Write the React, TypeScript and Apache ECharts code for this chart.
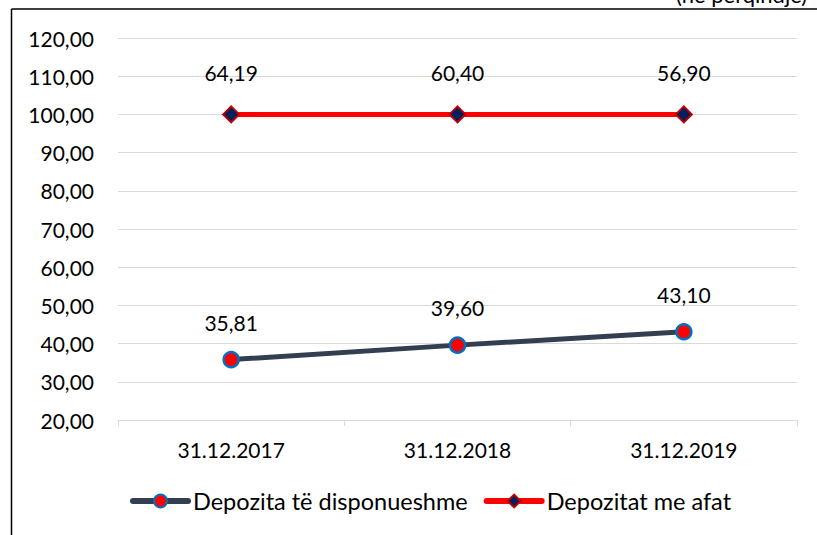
import React, { useEffect, useRef } from "react";
import * as echarts from "echarts";

const categories = ["31.12.2017", "31.12.2018", "31.12.2019"];
const disponueshme = [35.81, 39.6, 43.1];
const meAfat = [64.19, 60.4, 56.9];
const seriesNames = ["Depozita të disponueshme", "Depozitat me afat"];
const unitNote = "(në përqindje)";

const FONT = "Lato, 'Noto Sans', sans-serif";
const fmt = (v: number) => v.toFixed(2).replace(".", ",");

export default function App() {
  const ref = useRef<HTMLDivElement>(null);
  useEffect(() => {
    if (!ref.current) return;
    const chart = echarts.init(ref.current, undefined, { renderer: "svg" });
    chart.setOption({
      animation: false,
      backgroundColor: "#ffffff",
      textStyle: { fontFamily: FONT },
      grid: { left: 118, right: 20, top: 38, bottom: 115, containLabel: false },
      xAxis: {
        type: "category",
        data: categories,
        boundaryGap: true,
        axisLine: { show: true, lineStyle: { color: "#D9D9D9", width: 1 } },
        axisTick: { show: true, length: 6, lineStyle: { color: "#D9D9D9" } },
        axisLabel: { color: "#000", fontSize: 21, margin: 19, fontFamily: FONT },
      },
      yAxis: {
        type: "value",
        min: 20,
        max: 120,
        interval: 10,
        axisLine: { show: false },
        axisTick: { show: false },
        splitLine: { lineStyle: { color: "#D9D9D9", width: 1 } },
        axisLabel: {
          color: "#000",
          fontSize: 21,
          margin: 24,
          fontFamily: FONT,
          formatter: (v: number) => fmt(v),
        },
      },
      legend: {
        bottom: 17,
        left: 125,
        itemWidth: 55,
        itemHeight: 16,
        itemGap: 16,
        textStyle: { color: "#000", fontSize: 23.5, fontFamily: FONT },
        data: [
          { name: seriesNames[0], lineStyle: { width: 6, cap: "round" } },
          { name: seriesNames[1], lineStyle: { width: 6, cap: "round" } },
        ],
      },
      series: [
        {
          name: seriesNames[0],
          type: "line",
          stack: "total",
          data: disponueshme,
          lineStyle: { color: "#333F50", width: 5 },
          itemStyle: { color: "#FF0000", borderColor: "#0070C0", borderWidth: 2.5 },
          symbol: "circle",
          symbolSize: 15,
          label: {
            show: true,
            position: "top",
            distance: 18,
            color: "#000",
            fontSize: 21,
            fontFamily: FONT,
            formatter: (p: any) => fmt(p.value),
          },
          z: 3,
        },
        {
          name: seriesNames[1],
          type: "line",
          stack: "total",
          data: meAfat,
          lineStyle: { color: "#FF0000", width: 5 },
          itemStyle: { color: "#002060", borderColor: "#C00000", borderWidth: 2 },
          symbol: "diamond",
          symbolSize: 16,
          label: {
            show: true,
            position: "top",
            distance: 22,
            color: "#000",
            fontSize: 21,
            fontFamily: FONT,
            formatter: (p: any) => fmt(p.value),
          },
          z: 3,
        },
      ],
      graphic: [
        {
          type: "line",
          shape: { x1: 11.5, y1: 9, x2: 817, y2: 9 },
          style: { stroke: "#000", lineWidth: 1.5 },
          silent: true,
        },
        {
          type: "line",
          shape: { x1: 11.5, y1: 9, x2: 11.5, y2: 535 },
          style: { stroke: "#000", lineWidth: 1.5 },
          silent: true,
        },
        {
          type: "text",
          x: 676,
          y: 5,
          style: {
            text: unitNote,
            fill: "#000",
            font: `22px ${FONT}`,
            verticalAlign: "bottom",
          },
          silent: true,
        },
      ],
    });
    return () => chart.dispose();
  }, []);
  return (
    <div
      ref={ref}
      style={{ position: "absolute", left: 0, top: 0, width: 817, height: 535 }}
    />
  );
}
